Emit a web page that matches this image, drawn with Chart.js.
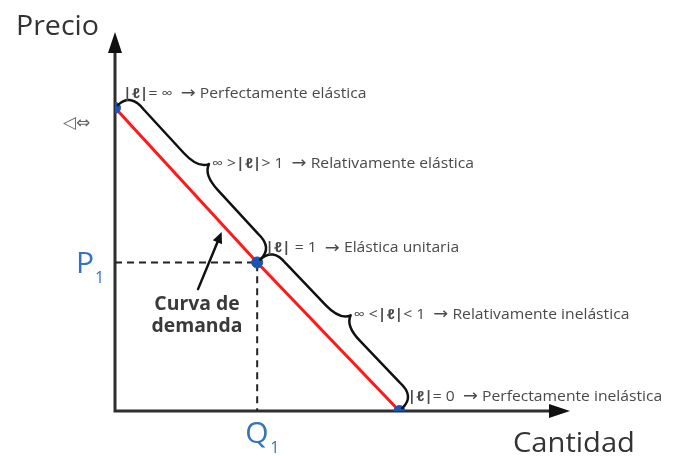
<!DOCTYPE html>
<html><head><meta charset="utf-8">
<script src="https://cdn.jsdelivr.net/npm/chart.js@4"></script>
<style>html,body{margin:0;padding:0;background:#fff}#wrap{width:675px;height:456px;position:relative}</style>
</head><body><div id="wrap"><canvas id="c" width="675" height="456"></canvas></div>
<script>
// ---- data ----
const quantityAxisMax = 16;
const priceAxisMax = 12.5;
const demandQuantity = [0, 5, 10];
const demandPrice = [10, 4.9, 0];
const refQuantity = 5;   // Q1
const refPrice = 4.9;    // P1
const axisTitles = ['Precio', 'Cantidad'];
const refLabels = ['P', 'Q'];
const pointNotes = [
  [['|ℓ|', 'b'], ['= ∞  ', 'n'], ['→', 'a'], [' Perfectamente elástica', 'n']],
  [['|ℓ|', 'b'], [' = 1  ', 'n'], ['→', 'a'], [' Elástica unitaria', 'n']],
  [['|ℓ|', 'b'], ['= 0  ', 'n'], ['→', 'a'], [' Perfectamente inelástica', 'n']]
];
const rangeNotes = [
  [['∞ >', 'n'], ['|ℓ|', 'b'], ['> 1  ', 'n'], ['→', 'a'], [' Relativamente elástica', 'n']],
  [['∞ <', 'n'], ['|ℓ|', 'b'], ['< 1  ', 'n'], ['→', 'a'], [' Relativamente inelástica', 'n']]
];
const curveLabel = ['Curva de', 'demanda'];
const interceptLabel = '◁⇔';

const BLUE = '#1a55b5';
const LBLUE = '#3474bd';
const TXT = '#4a4a4a';

function stretchText(ctx, str, x, y, sx, align) {
  ctx.save();
  ctx.translate(x, y);
  ctx.scale(sx, 1);
  ctx.textAlign = align || 'left';
  ctx.fillText(str, 0, 0);
  ctx.restore();
}
function richText(ctx, parts, x, y, size, sx) {
  let cx = x;
  ctx.textBaseline = 'middle';
  ctx.fillStyle = TXT;
  for (const [s, f] of parts) {
    if (f === 'a') ctx.font = (size + 2) + 'px "DejaVu Sans"';
    else ctx.font = (f === 'b' ? 'bold ' : '') + size + 'px "Open Sans"';
    stretchText(ctx, s, cx, y, sx);
    cx += ctx.measureText(s).width * sx;
  }
}
function brace(ctx, A, B, off, hb, w) {
  const dx = B.x - A.x, dy = B.y - A.y, len = Math.hypot(dx, dy);
  const ux = dx / len, uy = dy / len, nx = uy, ny = -ux;
  const P = (t, h) => ({x: A.x + ux * t * len + nx * (h + off), y: A.y + uy * t * len + ny * (h + off)});
  const seq = [
    ['M', P(0, 0)],
    ['Q', P(0.0, hb * 1.1), P(0.1, hb)],
    ['L', P(0.38, hb)],
    ['Q', P(0.48, hb), P(0.5, w)],
    ['M', P(1, 0)],
    ['Q', P(1.0, hb * 1.1), P(0.9, hb)],
    ['L', P(0.62, hb)],
    ['Q', P(0.52, hb), P(0.5, w)]
  ];
  ctx.beginPath();
  for (const s of seq) {
    if (s[0] === 'M') ctx.moveTo(s[1].x, s[1].y);
    else if (s[0] === 'L') ctx.lineTo(s[1].x, s[1].y);
    else ctx.quadraticCurveTo(s[1].x, s[1].y, s[2].x, s[2].y);
  }
  ctx.stroke();
  return P(0.5, w);
}

const decor = {
  id: 'decor',
  beforeDatasetsDraw(chart) {
    const ctx = chart.ctx, xs = chart.scales.x, ys = chart.scales.y;
    const x0 = xs.getPixelForValue(0), y0 = ys.getPixelForValue(0);
    const xt = xs.getPixelForValue(quantityAxisMax), yt = ys.getPixelForValue(priceAxisMax);
    ctx.save();
    ctx.strokeStyle = '#2e2e2e'; ctx.fillStyle = '#111'; ctx.lineWidth = 3;
    ctx.beginPath();
    ctx.moveTo(x0, yt + 18); ctx.lineTo(x0, y0); ctx.lineTo(xt - 18, y0);
    ctx.stroke();
    ctx.beginPath(); ctx.moveTo(x0, yt); ctx.lineTo(x0 - 7, yt + 21); ctx.lineTo(x0 + 7, yt + 21); ctx.closePath(); ctx.fill();
    ctx.beginPath(); ctx.moveTo(xt, y0); ctx.lineTo(xt - 21, y0 - 7); ctx.lineTo(xt - 21, y0 + 7); ctx.closePath(); ctx.fill();
    ctx.restore();
  },
  afterDatasetsDraw(chart) {
    const ctx = chart.ctx, xs = chart.scales.x, ys = chart.scales.y;
    const pts = demandQuantity.map((q, i) => ({x: xs.getPixelForValue(q), y: ys.getPixelForValue(demandPrice[i])}));
    ctx.save();
    // braces
    ctx.strokeStyle = '#111'; ctx.lineWidth = 2.5; ctx.lineCap = 'round'; ctx.lineJoin = 'round';
    const tips = [];
    for (let i = 0; i < pts.length - 1; i++) tips.push(brace(ctx, pts[i], pts[i + 1], 4, 16, 27));
    // point notes
    const sz = 14, sx = 1.12;
    pointNotes.forEach((parts, i) => {
      const p = pts[i];
      richText(ctx, parts, p.x + 8, p.y - 14, sz, sx);
    });
    rangeNotes.forEach((parts, i) => {
      richText(ctx, parts, tips[i].x + 3, tips[i].y, sz, sx);
    });
    // axis titles
    ctx.fillStyle = '#333';
    ctx.font = '28px "Open Sans"';
    ctx.textBaseline = 'alphabetic';
    stretchText(ctx, axisTitles[0], 16, 35, 1.02, 'left');
    stretchText(ctx, axisTitles[1], 513, 452, 1.04, 'left');
    // P1 / Q1
    ctx.fillStyle = LBLUE;
    const py = ys.getPixelForValue(refPrice), qx = xs.getPixelForValue(refQuantity);
    ctx.font = '30px "Open Sans"';
    ctx.textAlign = 'left';
    ctx.fillText(refLabels[0], 76, py + 11);
    ctx.font = '16px "Open Sans"';
    ctx.fillText('1', 95, py + 21);
    ctx.font = '30px "Open Sans"';
    ctx.fillText(refLabels[1], qx - 12, 443);
    ctx.font = '16px "Open Sans"';
    ctx.fillText('1', qx + 13, 453);
    // intercept label
    ctx.fillStyle = '#666';
    ctx.font = '17px "DejaVu Sans"';
    ctx.textBaseline = 'middle';
    ctx.fillText(interceptLabel, 63, ys.getPixelForValue(demandPrice[0]) + 16);
    // curve label
    ctx.fillStyle = '#3a3a3a';
    ctx.font = 'bold 19px "Open Sans"';
    ctx.textBaseline = 'alphabetic';
    stretchText(ctx, curveLabel[0], 197, 310, 1.02, 'center');
    stretchText(ctx, curveLabel[1], 197, 332, 1.02, 'center');
    // pointer arrow
    const ax0 = xs.getPixelForValue(2.92), ay0 = ys.getPixelForValue(4.02);
    const ax1 = xs.getPixelForValue(3.75), ay1 = ys.getPixelForValue(5.9);
    const ang = Math.atan2(ay1 - ay0, ax1 - ax0);
    ctx.strokeStyle = '#111'; ctx.fillStyle = '#111'; ctx.lineWidth = 2.5;
    ctx.beginPath(); ctx.moveTo(ax0, ay0);
    ctx.lineTo(ax1 - 8 * Math.cos(ang), ay1 - 8 * Math.sin(ang)); ctx.stroke();
    ctx.beginPath(); ctx.moveTo(ax1, ay1);
    ctx.lineTo(ax1 - 11 * Math.cos(ang) + 5 * Math.sin(ang), ay1 - 11 * Math.sin(ang) - 5 * Math.cos(ang));
    ctx.lineTo(ax1 - 11 * Math.cos(ang) - 5 * Math.sin(ang), ay1 - 11 * Math.sin(ang) + 5 * Math.cos(ang));
    ctx.closePath(); ctx.fill();
    ctx.restore();
  }
};

const demandData = demandQuantity.map((q, i) => ({x: q, y: demandPrice[i]}));
new Chart(document.getElementById('c'), {
  type: 'scatter',
  data: {
    datasets: [
      {data: [{x: 0, y: refPrice}, {x: refQuantity, y: refPrice}, {x: refQuantity, y: 0}], showLine: true,
       borderColor: '#222', borderWidth: 2, borderDash: [7, 5], pointRadius: 0, order: 3},
      {data: demandData, showLine: true, borderColor: '#ff1a1a', borderWidth: 3, pointRadius: 0, order: 2},
      {data: demandData, showLine: false, pointRadius: 5.5, pointBackgroundColor: BLUE, pointBorderColor: BLUE, order: 1}
    ]
  },
  options: {
    responsive: false, animation: false,
    layout: {padding: {left: 115, top: 32, right: 105, bottom: 45}},
    plugins: {legend: {display: false}, tooltip: {enabled: false}},
    scales: {
      x: {type: 'linear', min: 0, max: quantityAxisMax, display: false},
      y: {type: 'linear', min: 0, max: priceAxisMax, display: false}
    }
  },
  plugins: [decor]
});
</script></body></html>
